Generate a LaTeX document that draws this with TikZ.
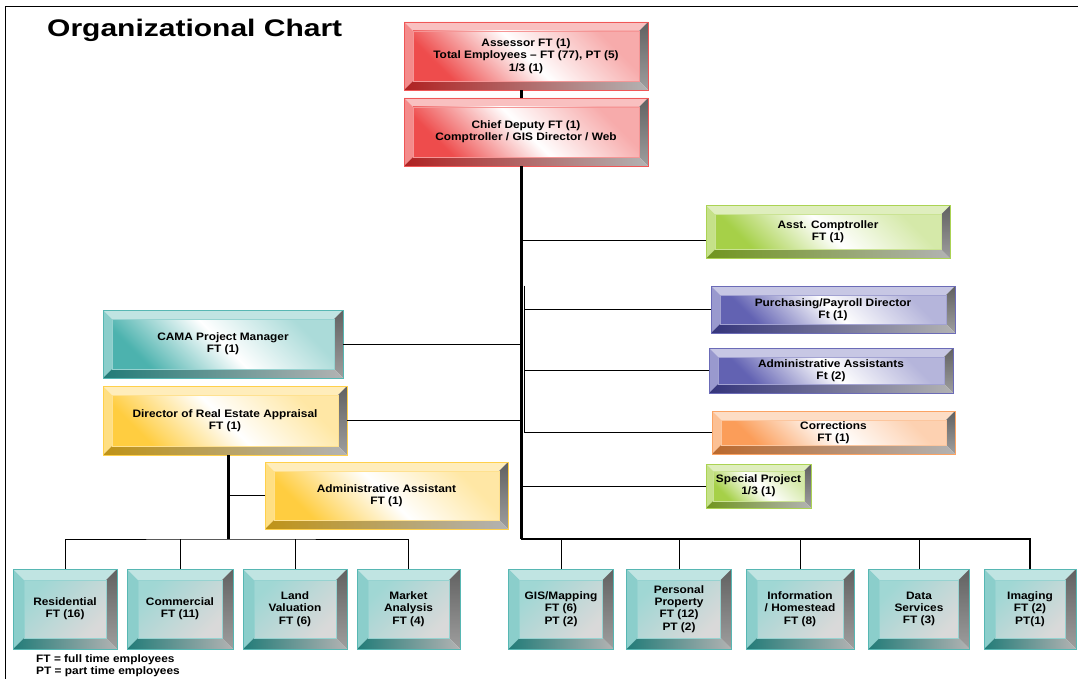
\documentclass[tikz,border=0pt]{standalone}
\usepackage{fontspec}
\setmainfont{Liberation Sans}[FakeStretch=1.1]
\newfontfamily\titlefont{Liberation Sans}[FakeStretch=1.25]
\definecolor{BoxRed}   {RGB}{235,45,45}
\definecolor{BoxTeal}  {RGB}{45,165,160}
\definecolor{BoxGold}  {RGB}{255,196,30}
\definecolor{BoxLime}  {RGB}{150,200,40}
\definecolor{BoxNavy}  {RGB}{70,70,165}
\definecolor{BoxOrange}{RGB}{250,140,60}
\newcommand\orgfont{\bfseries\fontsize{10.8}{12.3}\selectfont}
\usetikzlibrary{positioning,calc}

\tikzset{
  bevel width/.store in=\bw, bevel width=9pt,
  face/.style={top color=bcol!40, bottom color=bcol!85, middle color=white, shading angle=-45},
  bevel box/.style={/utils/exec={\colorlet{bcol}{#1}}, draw=bcol!80, line width=0.8pt,
    fill=white, inner sep=0pt, align=center, font=\orgfont,
    path picture={
      \coordinate (nw) at (path picture bounding box.north west);
      \coordinate (ne) at (path picture bounding box.north east);
      \coordinate (sw) at (path picture bounding box.south west);
      \coordinate (se) at (path picture bounding box.south east);
      \coordinate (inw) at ([shift={(\bw,-\bw)}]nw);
      \coordinate (ine) at ([shift={(-\bw,-\bw)}]ne);
      \coordinate (isw) at ([shift={(\bw,\bw)}]sw);
      \coordinate (ise) at ([shift={(-\bw,\bw)}]se);
      \fill[bcol!30] (nw) -- (ne) -- (ine) -- (inw) -- cycle;
      \fill[bcol!55] (nw) -- (inw) -- (isw) -- (sw) -- cycle;
      \shade[top color=black!62, bottom color=black!38] (ne) -- (se) -- (ise) -- (ine) -- cycle;
      \shade[left color=bcol!75!black, right color=black!30] (sw) -- (isw) -- (ise) -- (se) -- cycle;
      \shade[face] (inw) rectangle (ise);
      \draw[bcol!50, line width=0.4pt] (inw) rectangle (ise);
    }},
  tile/.style={bevel box=BoxTeal, bevel width=11pt, minimum width=104pt, minimum height=80pt,
    face/.style={top color=bcol!45, middle color=white, bottom color=black!15, shading angle=45}},
  trunk/.style={line width=3pt},
  bus/.style={line width=1.6pt},
  link/.style={line width=0.9pt},
}

\begin{document}
\begin{tikzpicture}[x=1pt,y=-1pt]
  \fill[white] (0,0) rectangle (1078,679);
  \useasboundingbox (0,0) rectangle (1078,679);
  \draw[line width=1pt] (5,679) |- (1078,7);
  \node[font=\titlefont\bfseries\fontsize{24}{28}\selectfont, anchor=base west, inner sep=0pt]
       (title) at (47,37) {Organizational Chart};

  % Head of office
  \node[bevel box=BoxRed, minimum width=244pt, minimum height=68pt] (assessor) at (526,56)
       {Assessor FT (1)\\Total Employees – FT (77), PT (5)\\1/3 (1)};
  \node[bevel box=BoxRed, minimum width=244pt, minimum height=68pt] (chief) at (526,132)
       {Chief Deputy FT (1)\\Comptroller / GIS Director / Web};

  % Staff on the right
  \node[bevel box=BoxLime, minimum width=244pt, minimum height=53pt] (acomp) at (828,232)
       {Asst. Comptroller\\FT (1)};
  \node[bevel box=BoxNavy, minimum width=244pt, minimum height=47pt] (purch) at (833,309.5)
       {Purchasing/Payroll Director\\Ft (1)};
  \node[bevel box=BoxNavy, minimum width=244pt, minimum height=45pt] (admins) at (831,370.5)
       {Administrative Assistants\\Ft (2)};
  \node[bevel box=BoxOrange, minimum width=243pt, minimum height=43pt] (corr) at (833.5,432.5)
       {Corrections\\FT (1)};
  \node[bevel box=BoxLime, bevel width=7pt, minimum width=105pt, minimum height=44pt] (special)
       at (758.5,486) {Special Project\\1/3 (1)};

  % Staff on the left
  \node[bevel box=BoxTeal, minimum width=240pt, minimum height=68pt] (cama) at (223,344)
       {CAMA Project Manager\\FT (1)};
  \node[bevel box=BoxGold, minimum width=244pt, minimum height=69pt] (dreal) at (225,420.5)
       {Director of Real Estate Appraisal\\FT (1)};
  \node[bevel box=BoxGold, minimum width=243pt, minimum height=67pt] (asst) at (386.5,495.5)
       {Administrative Assistant\\FT (1)};

  % Appraisal sections
  \node[tile] (resid) at (65,609) {Residential\\FT (16)};
  \node[tile, minimum width=106pt] (comm) at (180,609) {Commercial\\FT (11)};
  \node[tile] (land) at (295,609) {Land\\Valuation\\FT (6)};
  \node[tile, minimum width=103pt] (market) at (408.5,609) {Market\\Analysis\\FT (4)};

  % Other sections
  \node[tile, minimum width=105pt] (gis) at (561,609) {GIS/Mapping\\FT (6)\\PT (2)};
  \node[tile, minimum width=105pt] (pers) at (679,609) {Personal\\Property\\FT (12)\\PT (2)};
  \node[tile, minimum width=108pt] (info) at (800,609) {Information\\/ Homestead\\FT (8)};
  \node[tile, minimum width=101pt] (data) at (919,609) {Data\\Services\\FT (3)};
  \node[tile, minimum width=92pt] (imaging) at (1030,609) {Imaging\\FT (2)\\PT(1)};

  \node[font=\orgfont, align=left, anchor=north west, inner sep=0pt] (legend) at (36,654)
       {FT = full time employees\\PT = part time employees};

  % Connectors
  \coordinate (spine) at ([xshift=-5pt]chief.south);
  \coordinate (rbus) at (spine |- 0,539);
  \coordinate (lbus) at (dreal.south |- rbus);
  \coordinate (sub) at ([xshift=3.5pt]spine);
  \draw[trunk] (spine |- assessor.south) -- (spine |- chief.north);
  \draw[trunk] (spine) -- (rbus);
  \draw[bus] (rbus) -| (imaging.north);
  \foreach \b in {gis,pers,info,data}
    \draw[link] (\b.north) -- (\b.north |- rbus);
  \draw[trunk] ([xshift=3pt]dreal.south) -- ([xshift=3pt]lbus);
  \draw[link] (resid.north) |- (lbus) -| (market.north);
  \foreach \b in {comm,land}
    \draw[link] (\b.north) -- (\b.north |- lbus);
  \draw[link] (asst.west) -- ([xshift=3pt]asst.west -| dreal.south);
  \draw[link] ([yshift=-8pt]acomp.west) -- ([yshift=-8pt]acomp.west -| spine);
  \draw[link] (sub |- purch.north) -- (sub |- corr.west);
  \foreach \b in {purch,admins,corr}
    \draw[link] (\b.west) -- (\b.west -| sub);
  \draw[link] (special.west) -- (special.west -| spine);
  \draw[link] (cama.east) -- (cama.east -| spine);
  \draw[link] (dreal.east) -- (dreal.east -| spine);
\end{tikzpicture}
\end{document}
